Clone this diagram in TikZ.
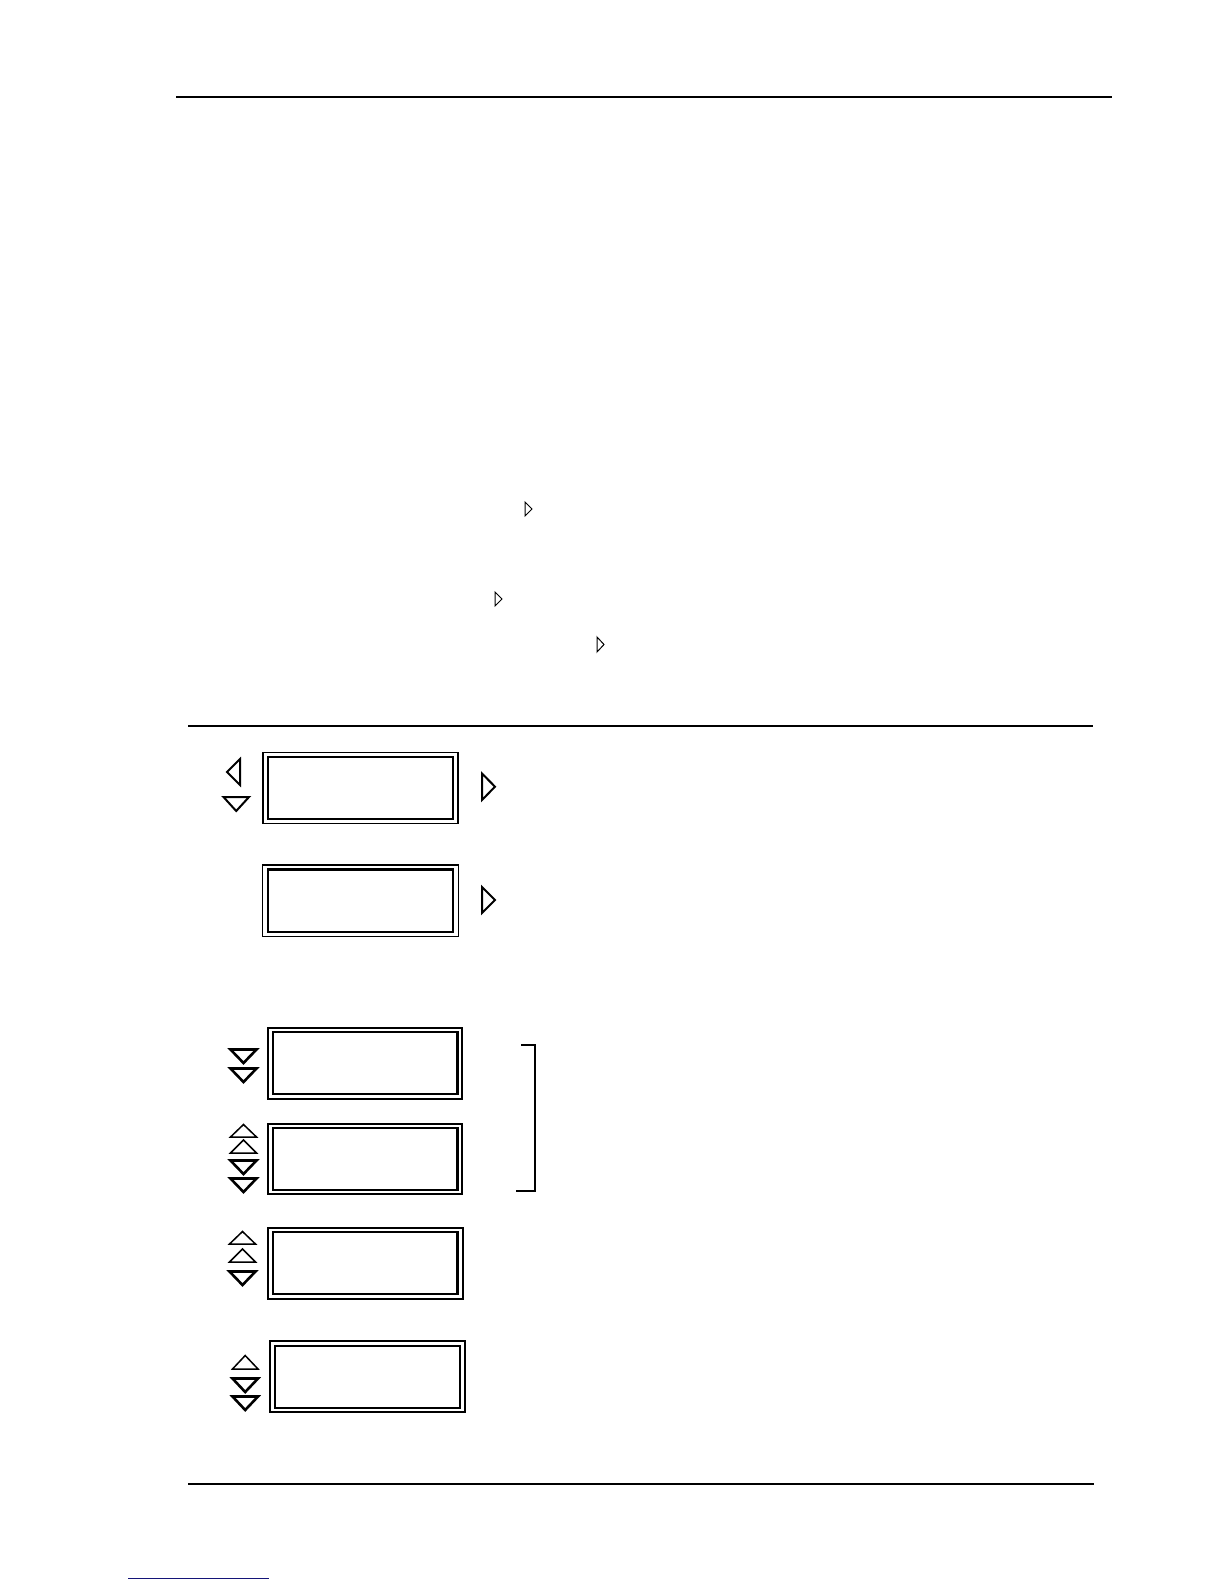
\documentclass[tikz,border=0pt]{standalone}
\begin{document}
\begin{tikzpicture}[x=1pt,y=-1pt,
  outerbox/.style={draw,rectangle,inner sep=0pt,line width=1.4pt,minimum width=195pt,minimum height=71pt},
  innerbox/.style={draw,rectangle,inner sep=0pt,line width=2.4pt,minimum width=184.5pt,minimum height=62pt},
  thickouter/.style={line width=2pt},
  smalltri/.style={line width=1pt,line join=miter},
  tri/.style={line width=2pt,line join=miter},
  uptri/.style={line width=1.5pt,line join=miter},
  downtri/.style={line width=2.6pt,line join=miter},
  rule/.style={line width=2.5pt}]
\useasboundingbox (0,0) rectangle (1224,1584);
% page rules
\coordinate (t1) at (176,97); \coordinate (t2) at (1112,97);
\draw[rule] (t1) -- (t2);
\coordinate (s1) at (188,726); \coordinate (s2) at (1093,726);
\draw[line width=1.2pt] (s1) -- (s2);
\coordinate (f1) at (188,1484); \coordinate (f2) at (1094,1484);
\draw[rule] (f1) -- (f2);
\coordinate (l1) at (128,1578); \coordinate (l2) at (269,1578);
\draw[line width=1pt,color={rgb,255:red,20;green,20;blue,120}] (l1) -- (l2);
% small right triangles in text area
\draw[smalltri] (525,502) -- (532,509) -- (525,516) -- cycle;
\draw[smalltri] (495,592) -- (502,599) -- (495,606) -- cycle;
\draw[smalltri] (597,637) -- (604,644.5) -- (597,652) -- cycle;
% box 1
\node[outerbox] (b1o) at (360.5,788) {};
\node[innerbox] (b1i) at (360.5,788) {};
\draw[tri] (227,772) -- (240,759) -- (240,785) -- cycle;
\draw[tri] (223.5,797) -- (249,797) -- (236.2,811) -- cycle;
\draw[tri] (482,773.5) -- (495,786.7) -- (482,800) -- cycle;
% box 2
\node[outerbox,minimum width=195.6pt,minimum height=71.7pt] (b2o) at (360.5,900.8) {};
\node[innerbox,minimum height=62.4pt] (b2i) at (360.5,900.5) {};
\draw[tri] (482,887) -- (495,900) -- (482,913) -- cycle;
% box 3
\node[outerbox,thickouter,minimum width=194pt] (b3o) at (365,1063.5) {};
\node[innerbox,minimum width=184.7pt] (b3i) at (365.3,1063) {};
\draw[downtri] (230.5,1049.5) -- (256.5,1049.5) -- (243.5,1063) -- cycle;
\draw[downtri] (230.5,1068.5) -- (256.5,1068.5) -- (243.5,1082) -- cycle;
% box 4
\node[outerbox,thickouter,minimum width=194pt,minimum height=70pt] (b4o) at (365,1159) {};
\node[innerbox,minimum width=184.7pt,minimum height=61.7pt] (b4i) at (365.3,1159) {};
\draw[uptri] (230.5,1137) -- (256.5,1137) -- (243.5,1124.5) -- cycle;
\draw[uptri] (230.5,1153) -- (256.5,1153) -- (243.5,1140) -- cycle;
\draw[downtri] (230.5,1160.5) -- (256.5,1160.5) -- (243.5,1174) -- cycle;
\draw[downtri] (230.5,1178.5) -- (256.5,1178.5) -- (243.5,1192) -- cycle;
% bracket
\coordinate (k1) at (521,1044.5); \coordinate (k2) at (534.5,1044.5);
\coordinate (k3) at (534.5,1191); \coordinate (k4) at (516,1191);
\draw[line width=2pt] (k1) -- (k2) -- (k3) -- (k4);
% box 5
\node[outerbox,thickouter] (b5o) at (365.5,1263.5) {};
\node[innerbox,minimum width=184.7pt] (b5i) at (365.3,1263) {};
\draw[uptri] (229.5,1244) -- (255.5,1244) -- (242.5,1231.5) -- cycle;
\draw[uptri] (229.5,1262) -- (255.5,1262) -- (242.5,1249) -- cycle;
\draw[downtri] (229.5,1271.5) -- (255.5,1271.5) -- (242.5,1285) -- cycle;
% box 6
\node[outerbox,thickouter] (b6o) at (367.5,1376.5) {};
\node[innerbox,minimum width=185pt] (b6i) at (367.5,1376.7) {};
\draw[uptri] (232.5,1369) -- (258,1369) -- (245.2,1355.5) -- cycle;
\draw[downtri] (232.5,1378.5) -- (258,1378.5) -- (245.2,1392) -- cycle;
\draw[downtri] (232.5,1396.5) -- (258,1396.5) -- (245.2,1410) -- cycle;
\end{tikzpicture}
\end{document}
